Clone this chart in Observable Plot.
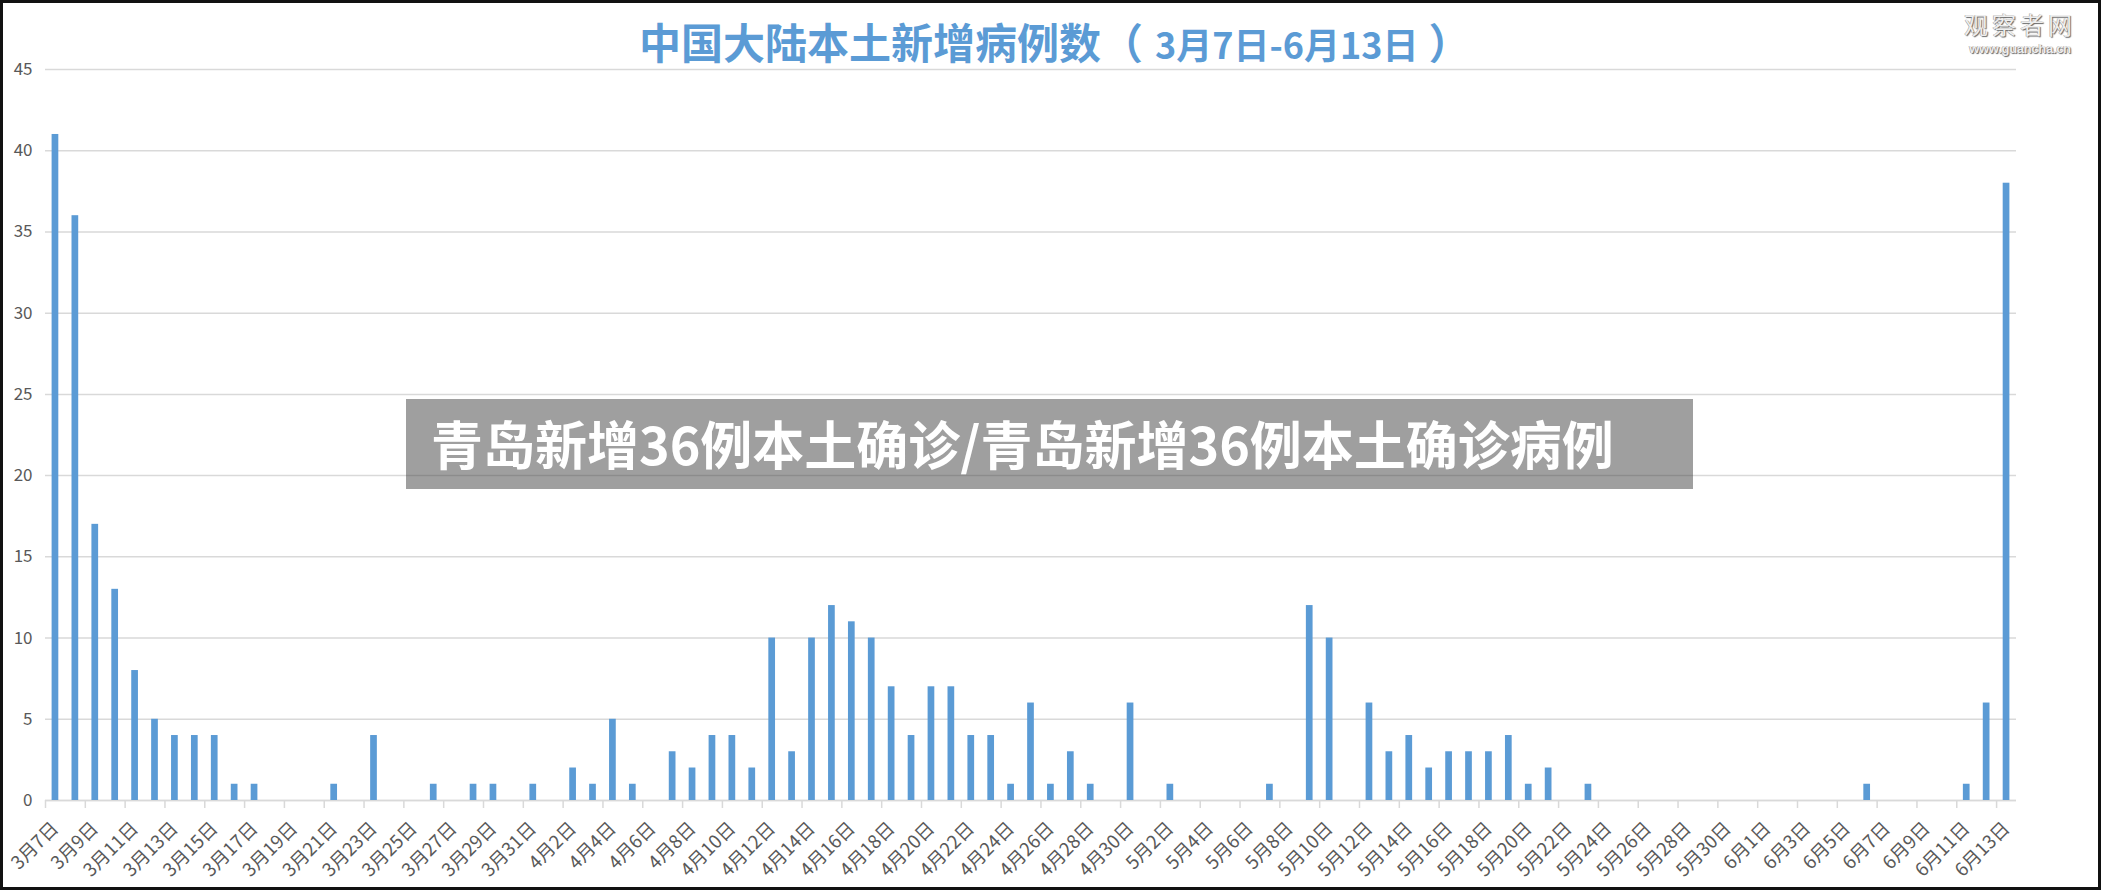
<!DOCTYPE html>
<html><head><meta charset="utf-8">
<script src="https://cdn.jsdelivr.net/npm/d3@7"></script>
<script src="https://cdn.jsdelivr.net/npm/@observablehq/plot@0.6"></script>
<style>
html,body{margin:0;padding:0;background:#fff;}
#page{position:relative;width:2101px;height:890px;overflow:hidden;background:#fff;font-family:"Noto Sans CJK SC","Noto Sans",sans-serif;}
#chart{position:absolute;left:0;top:0;}
#title{position:absolute;left:639px;top:16px;white-space:nowrap;color:#5B9BD5;font-weight:700;font-size:42px;line-height:50px;}
#title .sm{font-size:36px;padding:0 10px 0 12px;}
#banner{position:absolute;left:406px;top:399px;width:1287px;height:90px;background:rgba(64,64,64,0.5);color:#fff;font-weight:700;font-size:52px;line-height:88px;padding-left:25px;box-sizing:border-box;white-space:nowrap;}
.wm{position:absolute;left:1960px;width:120px;color:#eeeeee;text-shadow:1px 1px 1px #666,-0.5px -0.5px 0 #999;white-space:nowrap;text-align:center;}
#wmA{top:12px;height:24px;font-size:24px;line-height:24px;letter-spacing:4px;}
#wmB{top:42px;height:14px;font-family:"Liberation Sans",sans-serif;font-weight:700;font-size:13px;line-height:14px;letter-spacing:-0.3px;}
#frame{position:absolute;left:0;top:0;width:2101px;height:890px;border:3px solid #111;box-sizing:border-box;pointer-events:none;}
</style>
</head>
<body>
<div id="page">
  <div id="chart"></div>
  <div id="title">中国大陆本土新增病例数（<span class="sm">3月7日-6月13日</span>）</div>
  <div id="banner">青岛新增36例本土确诊/青岛新增36例本土确诊病例</div>
  <div class="wm" id="wmA">观察者网</div>
  <div class="wm" id="wmB">www.guancha.cn</div>
  <div id="frame"></div>
</div>
<script>
const dates = [
  "3月7日","3月8日","3月9日","3月10日","3月11日","3月12日","3月13日","3月14日","3月15日","3月16日",
  "3月17日","3月18日","3月19日","3月20日","3月21日","3月22日","3月23日","3月24日","3月25日","3月26日",
  "3月27日","3月28日","3月29日","3月30日","3月31日",
  "4月1日","4月2日","4月3日","4月4日","4月5日","4月6日","4月7日","4月8日","4月9日","4月10日",
  "4月11日","4月12日","4月13日","4月14日","4月15日","4月16日","4月17日","4月18日","4月19日","4月20日",
  "4月21日","4月22日","4月23日","4月24日","4月25日","4月26日","4月27日","4月28日","4月29日","4月30日",
  "5月1日","5月2日","5月3日","5月4日","5月5日","5月6日","5月7日","5月8日","5月9日","5月10日",
  "5月11日","5月12日","5月13日","5月14日","5月15日","5月16日","5月17日","5月18日","5月19日","5月20日",
  "5月21日","5月22日","5月23日","5月24日","5月25日","5月26日","5月27日","5月28日","5月29日","5月30日","5月31日",
  "6月1日","6月2日","6月3日","6月4日","6月5日","6月6日","6月7日","6月8日","6月9日","6月10日",
  "6月11日","6月12日","6月13日"
];
const cases = [
  41,36,17,13,8,5,4,4,4,1,
  1,0,0,0,1,0,4,0,0,1,
  0,1,1,0,1,
  0,2,1,5,1,0,3,2,4,4,
  2,10,3,10,12,11,10,7,4,7,
  7,4,4,1,6,1,3,1,0,6,
  0,1,0,0,0,0,1,0,12,10,
  0,6,3,4,2,3,3,3,4,1,
  2,0,1,0,0,0,0,0,0,0,0,
  0,0,0,0,0,1,0,0,0,0,
  1,6,38
];
const yTicks = [0,5,10,15,20,25,30,35,40,45];

const data = dates.map((d, i) => ({i, date: d, value: cases[i]}));
const idx = dates.map((d, i) => i);
const tickPos = idx.filter(i => i % 2 === 0);
const labelPos = tickPos.map(i => i + 0.5);

const chart = Plot.plot({
  width: 2101, height: 890,
  marginLeft: 45, marginRight: 85, marginTop: 69, marginBottom: 90,
  style: {background: "transparent", color: "#595959", fontFamily: "'Noto Sans CJK SC', 'Noto Sans', sans-serif", fontSize: "17px"},
  x: {type: "linear", domain: [0, dates.length], label: null},
  y: {domain: [0, 45], label: null},
  marks: [
    Plot.gridY({ticks: yTicks, stroke: "#d9d9d9", strokeOpacity: 1, strokeWidth: 1.5}),
    Plot.ruleY([0], {stroke: "#d9d9d9", strokeWidth: 1.5}),
    Plot.axisX({ticks: tickPos, tickSize: 8, stroke: "#d9d9d9", strokeWidth: 1.5, tickFormat: () => "", label: null}),
    Plot.axisX({ticks: labelPos, tickSize: 0, tickPadding: 25, tickRotate: -45, tickFormat: v => dates[Math.round(v - 0.5)], fontSize: 18.5, fill: "#595959", label: null}),
    Plot.axisY({ticks: yTicks, tickSize: 0, tickPadding: 13, fontSize: 17, fill: "#595959", label: null}),
    Plot.rectY(data, {x1: "i", x2: d => d.i + 1, y: "value", insetLeft: 6.6, insetRight: 6.6, fill: "#5B9BD5"})
  ]
});
document.getElementById("chart").appendChild(chart);
</script>
</body></html>
